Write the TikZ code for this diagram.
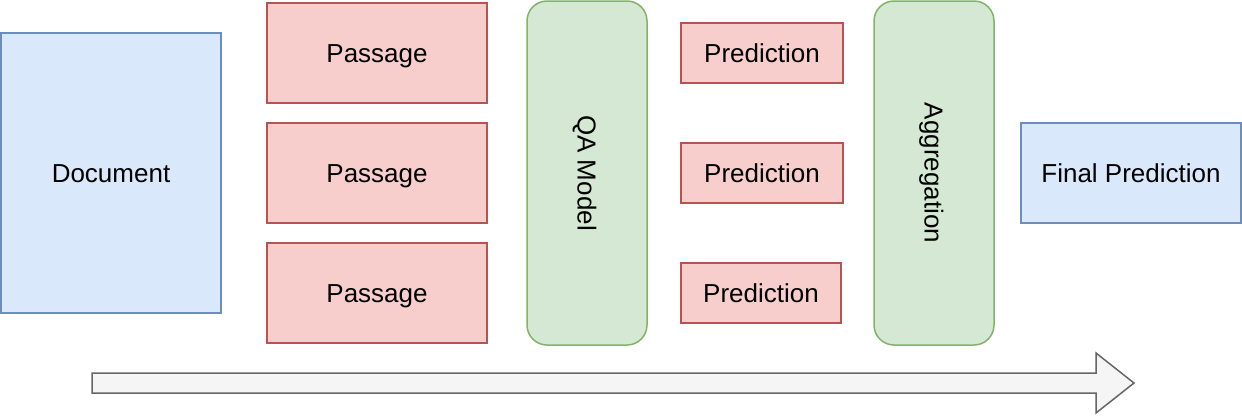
\documentclass[tikz,border=0pt]{standalone}
\usepackage{fontspec}
\setmainfont{Liberation Sans}
\usetikzlibrary{positioning}

\definecolor{bluefill}{HTML}{DAE8FC}
\definecolor{blueline}{HTML}{6C8EBF}
\definecolor{redfill}{HTML}{F8CECC}
\definecolor{redline}{HTML}{B85450}
\definecolor{greenfill}{HTML}{D5E8D4}
\definecolor{greenline}{HTML}{82B366}
\definecolor{greyfill}{HTML}{F5F5F5}
\definecolor{greyline}{HTML}{666666}

\newcommand\boxtextstyle{\fontsize{26}{30}\selectfont}
\newcommand\boxlinewidth{1.5pt}

\tikzset{
  anybox/.style={line width=\boxlinewidth, inner sep=0pt, font=\boxtextstyle,
    text height=19pt, text depth=0pt},
  bluebox/.style={anybox, draw=blueline, fill=bluefill},
  passagebox/.style={anybox, draw=redline, fill=redfill, minimum width=220pt, minimum height=100pt},
  predbox/.style={anybox, draw=redline, fill=redfill, minimum width=162pt, minimum height=60pt},
  stagebox/.style={anybox, draw=greenline, fill=greenfill, rounded corners=20pt,
    rotate=-90, minimum width=344pt, minimum height=120pt},
  flowarrow/.style={line width=\boxlinewidth, draw=greyline, fill=greyfill},
}

\begin{document}
\begin{tikzpicture}[x=1pt, y=-1pt]
    \useasboundingbox (0,0) rectangle (1242,416);
    % input
    \node[bluebox, minimum width=220pt, minimum height=280pt] (document) at (111,173) {Document};
    % passages
    \node[passagebox] (passage1) at (377,53) {Passage};
    \node[passagebox, below=18.5pt of passage1] (passage2) {Passage};
    \node[passagebox, below=18.5pt of passage2] (passage3) {Passage};
    % model
    \node[stagebox] (qamodel) at (587,173) {QA Model};
    % predictions
    \node[predbox] (prediction1) at (762,53) {Prediction};
    \node[predbox, below=58.5pt of prediction1] (prediction2) {Prediction};
    \node[predbox, minimum width=160pt] (prediction3) at (761,293) {Prediction};
    % aggregation and output
    \node[stagebox] (aggregation) at (934,173) {Aggregation};
    \node[bluebox, minimum width=220pt, minimum height=100pt] (final) at (1131,173) {Final Prediction};
    % flow arrow
    \draw[flowarrow] (92,373) -- (1096,373) -- (1096,353) -- (1134,383)
      -- (1096,413) -- (1096,393) -- (92,393) -- cycle;
\end{tikzpicture}
\end{document}
